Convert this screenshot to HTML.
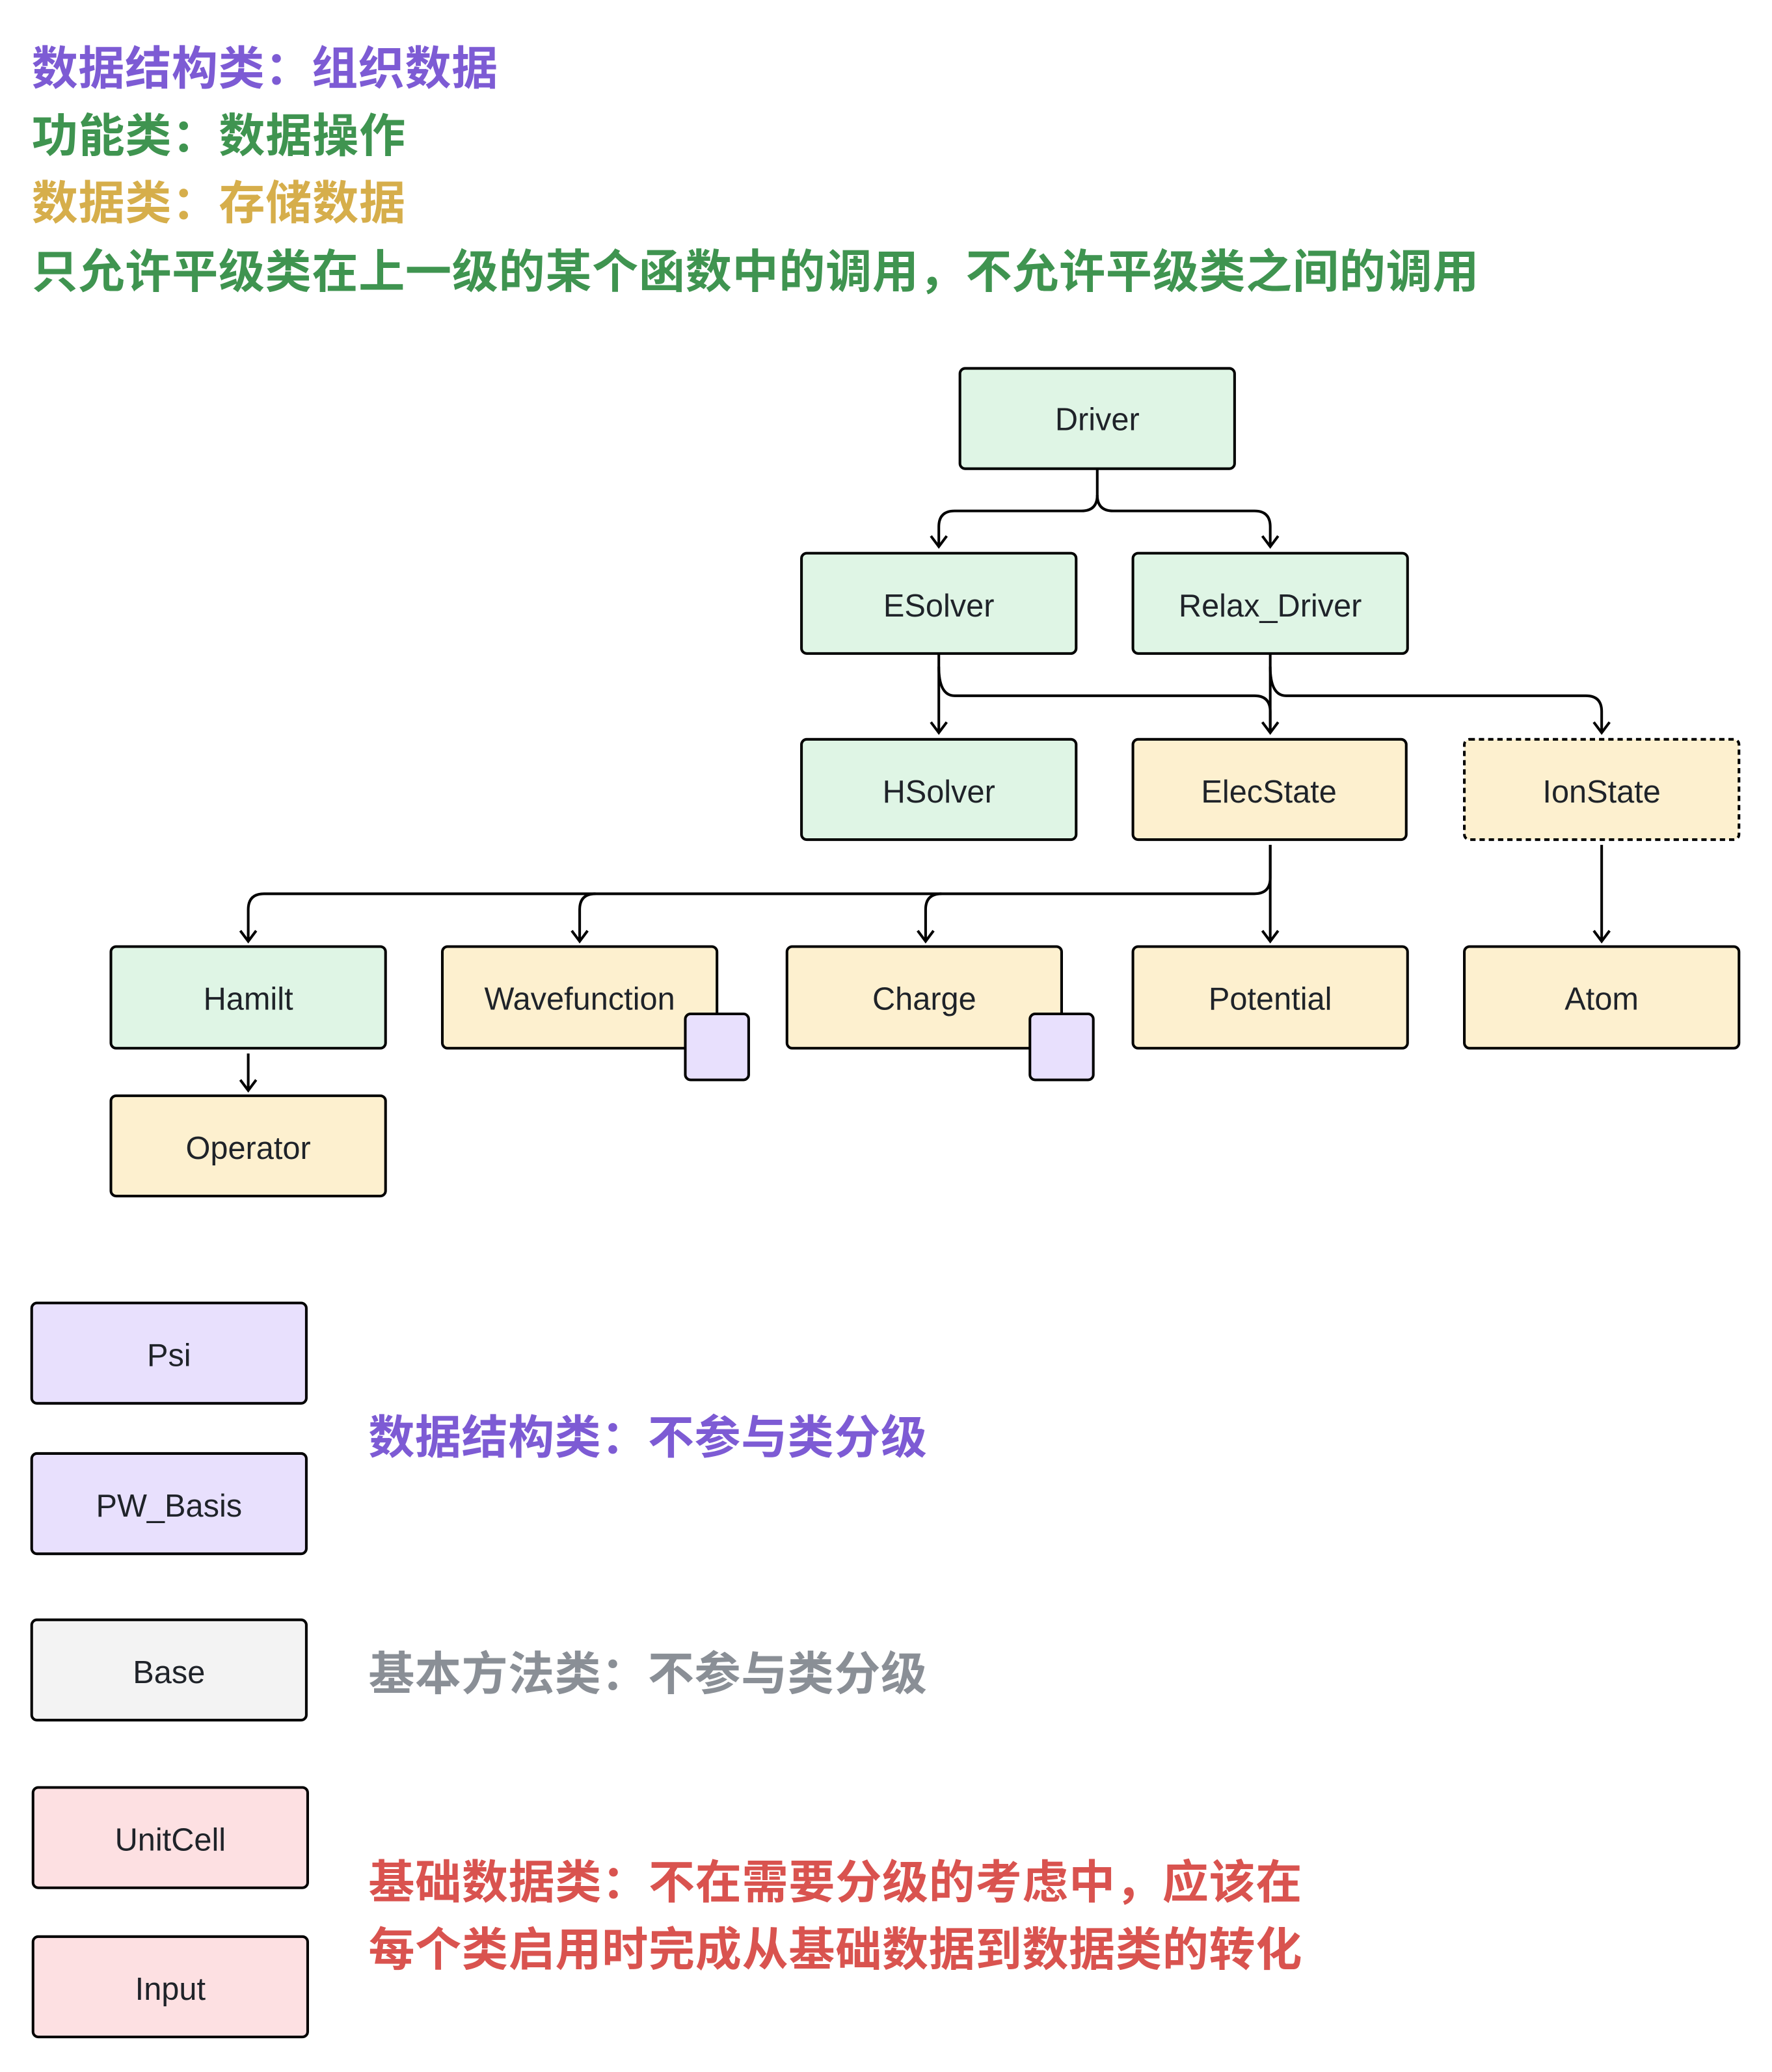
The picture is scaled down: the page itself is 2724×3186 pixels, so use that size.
<!DOCTYPE html>
<html><head><meta charset="utf-8"><style>
html,body{margin:0;padding:0;background:#fff;}
svg{display:block;}
text{font-family:"Liberation Sans","Noto Sans CJK SC",sans-serif;}
.t{font-size:35px;font-weight:bold;}
.b{font-size:24px;fill:#1f2329;text-anchor:middle;dominant-baseline:central;}
.l{fill:none;stroke:#000;stroke-width:2;}
</style></head><body>
<svg width="2724" height="3186" viewBox="0 0 1342 1569.5" xmlns="http://www.w3.org/2000/svg">
<rect width="1342" height="1569.5" fill="#fff"/>
<text class="t" x="24" y="64" fill="#7d5bd4" textLength="353">数据结构类：组织数据</text>
<text class="t" x="24" y="115" fill="#3f9450" textLength="283">功能类：数据操作</text>
<text class="t" x="24" y="166" fill="#d6ae4b" textLength="283">数据类：存储数据</text>
<text class="t" x="24" y="218" fill="#3f9450" textLength="1096">只允许平级类在上一级的某个函数中的调用，不允许平级类之间的调用</text>

<g class="l">
<path d="M831 355 V375 Q831 387 819 387 H723 Q711 387 711 399 V414"/>
<path d="M831 375 Q831 387 843 387 H950 Q962 387 962 399 V414"/>
<path d="M711 495 V555"/>
<path d="M711 505 Q711 527 723 527 H950 Q962 527 962 539 V555"/>
<path d="M962 495 V555"/>
<path d="M962 505 Q962 527 974 527 H1201 Q1213 527 1213 539 V555"/>
<path d="M962 640 V713"/>
<path d="M962 640 V665 Q962 677 950 677 H200 Q188 677 188 689 V713"/>
<path d="M451 677 Q439 677 439 689 V713"/>
<path d="M713 677 Q701 677 701 689 V713"/>
<path d="M1213 640 V713"/>
<path d="M188 798 V826"/>
<path d="M705 406 L711 414 L717 406 M956 406 L962 414 L968 406 M705 547 L711 555 L717 547 M956 547 L962 555 L968 547 M1207 547 L1213 555 L1219 547 M956 705 L962 713 L968 705 M182 705 L188 713 L194 705 M433 705 L439 713 L445 705 M695 705 L701 713 L707 705 M1207 705 L1213 713 L1219 705 M182 818 L188 826 L194 818"/>
</g>

<g stroke="#000" stroke-width="2">
<rect x="727" y="279" width="208" height="76" rx="4" fill="#dff5e5"/>
<rect x="607" y="419" width="208" height="76" rx="4" fill="#dff5e5"/>
<rect x="858" y="419" width="208" height="76" rx="4" fill="#dff5e5"/>
<rect x="607" y="560" width="208" height="76" rx="4" fill="#dff5e5"/>
<rect x="858" y="560" width="207" height="76" rx="4" fill="#fdf0cf"/>
<rect x="1109" y="560" width="208" height="76" rx="4" fill="#fdf0cf" stroke-dasharray="4 3"/>
<rect x="84" y="717" width="208" height="77" rx="4" fill="#dff5e5"/>
<rect x="335" y="717" width="208" height="77" rx="4" fill="#fdf0cf"/>
<rect x="596" y="717" width="208" height="77" rx="4" fill="#fdf0cf"/>
<rect x="858" y="717" width="208" height="77" rx="4" fill="#fdf0cf"/>
<rect x="1109" y="717" width="208" height="77" rx="4" fill="#fdf0cf"/>
<rect x="519" y="768" width="48" height="50" rx="4" fill="#e8e0fd"/>
<rect x="780" y="768" width="48" height="50" rx="4" fill="#e8e0fd"/>
<rect x="84" y="830" width="208" height="76" rx="4" fill="#fdf0cf"/>
<rect x="24" y="987" width="208" height="76" rx="4" fill="#e8e0fd"/>
<rect x="24" y="1101" width="208" height="76" rx="4" fill="#e8e0fd"/>
<rect x="24" y="1227" width="208" height="76" rx="4" fill="#f3f3f3"/>
<rect x="25" y="1354" width="208" height="76" rx="4" fill="#fde0e2"/>
<rect x="25" y="1467" width="208" height="76" rx="4" fill="#fde0e2"/>
</g>

<text class="b" x="831" y="318">Driver</text>
<text class="b" x="711" y="459">ESolver</text>
<text class="b" x="962" y="459">Relax_Driver</text>
<text class="b" x="711" y="600">HSolver</text>
<text class="b" x="961" y="600">ElecState</text>
<text class="b" x="1213" y="600">IonState</text>
<text class="b" x="188" y="757">Hamilt</text>
<text class="b" x="439" y="757">Wavefunction</text>
<text class="b" x="700" y="757">Charge</text>
<text class="b" x="962" y="757">Potential</text>
<text class="b" x="1213" y="757">Atom</text>
<text class="b" x="188" y="870">Operator</text>
<text class="b" x="128" y="1027">Psi</text>
<text class="b" x="128" y="1141">PW_Basis</text>
<text class="b" x="128" y="1267">Base</text>
<text class="b" x="129" y="1394">UnitCell</text>
<text class="b" x="129" y="1507">Input</text>

<text class="t" x="279" y="1101" fill="#7d5bd4" textLength="423">数据结构类：不参与类分级</text>
<text class="t" x="279" y="1280" fill="#8a8f96" textLength="423">基本方法类：不参与类分级</text>
<text class="t" x="279" y="1438" fill="#d9534f" textLength="707">基础数据类：不在需要分级的考虑中，应该在</text>
<text class="t" x="279" y="1489" fill="#d9534f" textLength="707">每个类启用时完成从基础数据到数据类的转化</text>
</svg>
</body></html>
